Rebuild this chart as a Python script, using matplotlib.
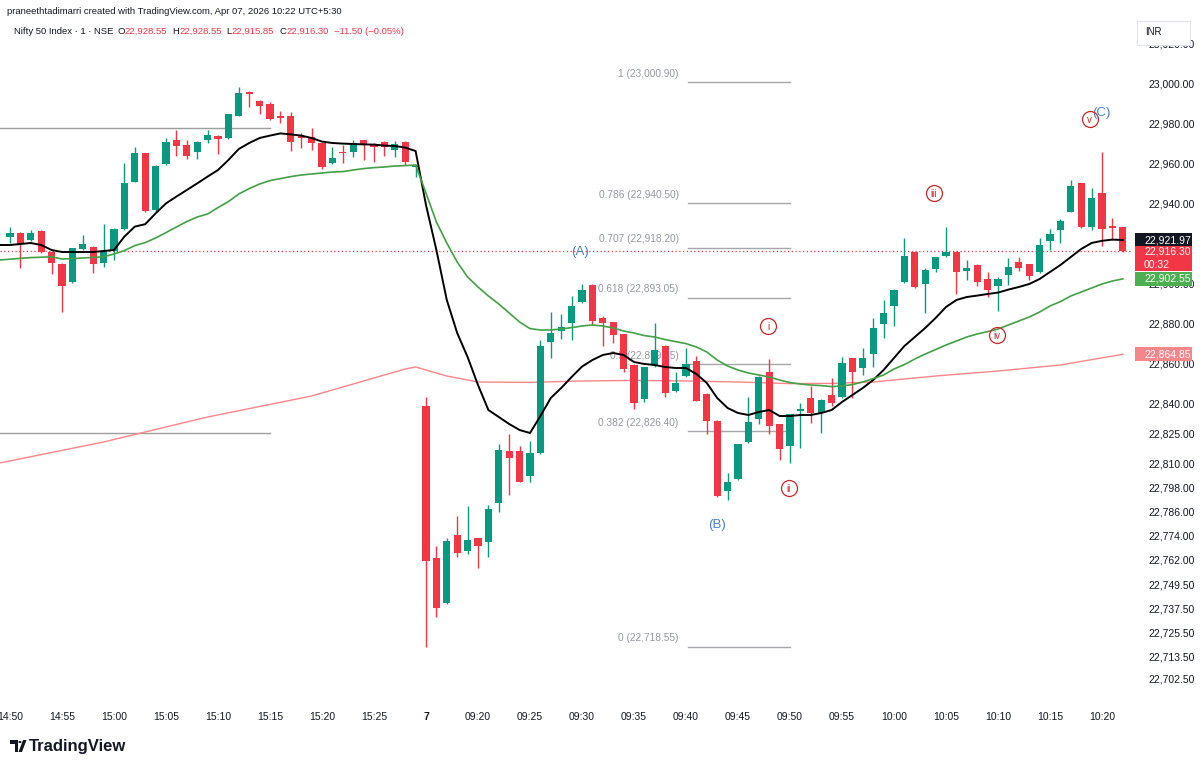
import matplotlib
matplotlib.use("Agg")
import matplotlib.pyplot as plt
from matplotlib import transforms
from matplotlib.patches import Rectangle, Polygon, Circle
import numpy as np

plt.rcParams["font.family"] = ["Liberation Sans", "DejaVu Sans"]

# ---- 1-minute candles, Nifty 50 (14:50 prev day ... 10:22) ----
opens = [
    22923.7, 22925.3, 22922.0, 22926.5, 22916.2, 22910.0, 22900.8, 22917.5, 22918.7, 22910.3,
    22916.7, 22927.3, 22951.2, 22965.3, 22937.0, 22960.0, 22971.8, 22969.3, 22966.2, 22972.0,
    22974.0, 22972.8, 22984.2, 22996.2, 22991.7, 22989.8, 22983.4, 22984.0, 22973.5, 22973.7,
    22970.3, 22960.3, 22965.8, 22966.2, 22971.8, 22969.8, 22971.0, 22967.0, 22971.0, 22958.5,
    22839.0, 22762.8, 22740.3, 22774.5, 22766.5, 22772.8, 22770.8, 22790.7, 22816.7, 22816.7,
    22804.0, 22815.3, 22871.0, 22876.7, 22880.3, 22890.8, 22899.5, 22883.2, 22880.8, 22874.8,
    22859.5, 22842.7, 22859.5, 22869.0, 22846.5, 22854.0, 22861.5, 22845.0, 22831.7, 22796.5,
    22802.3, 22820.8, 22832.5, 22855.8, 22829.8, 22819.2, 22836.5, 22842.8, 22835.7, 22844.5,
    22843.3, 22862.8, 22857.8, 22865.0, 22880.0, 22889.0, 22900.8, 22915.8, 22900.0, 22907.5,
    22914.0, 22916.2, 22906.7, 22909.5, 22902.3, 22899.2, 22904.5, 22910.8, 22909.8, 22905.8,
    22921.5, 22927.0, 22936.2, 22950.3, 22928.3, 22945.3, 22929.0, 22928.55,
]
highs = [
    22928.7, 22925.8, 22927.0, 22926.8, 22916.5, 22910.3, 22918.0, 22924.5, 22919.2, 22930.0,
    22927.8, 22960.7, 22968.7, 22965.6, 22959.5, 22972.8, 22977.0, 22972.0, 22971.3, 22977.0,
    22974.3, 22985.1, 22998.5, 22996.5, 22992.0, 22991.2, 22986.7, 22985.8, 22975.3, 22977.8,
    22970.6, 22968.7, 22969.5, 22972.0, 22972.0, 22970.5, 22971.3, 22971.5, 22971.3, 22960.0,
    22843.3, 22769.2, 22773.2, 22784.0, 22789.2, 22773.0, 22789.5, 22820.0, 22824.8, 22819.2,
    22821.7, 22872.0, 22886.2, 22884.8, 22894.0, 22900.0, 22899.8, 22884.0, 22881.0, 22875.0,
    22859.8, 22858.6, 22880.3, 22869.3, 22856.2, 22867.8, 22864.2, 22845.3, 22832.0, 22805.3,
    22820.1, 22843.7, 22854.0, 22862.3, 22830.1, 22835.1, 22840.3, 22849.2, 22842.3, 22852.8,
    22863.7, 22863.1, 22867.8, 22882.8, 22892.0, 22897.3, 22922.8, 22916.1, 22907.8, 22913.6,
    22928.3, 22916.5, 22912.0, 22909.8, 22906.2, 22903.5, 22912.8, 22913.3, 22910.1, 22922.8,
    22927.3, 22932.5, 22952.0, 22950.6, 22947.8, 22966.2, 22932.8, 22928.55,
]
lows = [
    22920.5, 22907.8, 22921.5, 22915.5, 22905.0, 22886.2, 22900.5, 22917.2, 22905.3, 22908.7,
    22912.0, 22927.0, 22951.0, 22936.2, 22936.7, 22959.7, 22964.0, 22962.5, 22962.5, 22970.7,
    22965.0, 22972.5, 22984.0, 22988.7, 22985.0, 22982.0, 22980.3, 22966.7, 22968.2, 22967.0,
    22957.3, 22960.0, 22960.3, 22963.3, 22962.0, 22961.2, 22964.0, 22963.7, 22959.5, 22953.7,
    22718.55, 22733.7, 22740.0, 22763.3, 22765.0, 22757.8, 22763.3, 22786.2, 22794.5, 22801.0,
    22800.8, 22815.0, 22862.8, 22872.3, 22872.0, 22890.5, 22879.5, 22869.0, 22870.3, 22856.2,
    22837.3, 22841.2, 22858.3, 22843.7, 22846.2, 22853.7, 22841.4, 22825.0, 22793.7, 22792.0,
    22802.0, 22820.5, 22830.0, 22825.0, 22812.0, 22810.7, 22817.8, 22830.3, 22825.3, 22839.0,
    22843.0, 22842.8, 22854.5, 22858.7, 22872.8, 22879.0, 22900.5, 22897.8, 22885.7, 22906.2,
    22913.7, 22895.0, 22902.0, 22899.0, 22893.7, 22886.7, 22899.5, 22906.5, 22902.0, 22905.5,
    22917.0, 22920.3, 22935.9, 22928.0, 22927.0, 22919.0, 22922.0, 22915.85,
]
closes = [
    22925.7, 22920.0, 22925.7, 22915.8, 22910.7, 22899.0, 22917.8, 22919.8, 22910.2, 22916.5,
    22927.5, 22950.7, 22965.3, 22936.5, 22959.2, 22970.8, 22969.2, 22964.0, 22971.0, 22974.5,
    22972.3, 22984.8, 22995.3, 22995.0, 22989.0, 22982.3, 22983.2, 22970.8, 22973.2, 22970.3,
    22958.3, 22962.8, 22965.5, 22970.3, 22969.5, 22968.7, 22968.7, 22969.8, 22961.2, 22959.2,
    22761.7, 22737.8, 22771.7, 22765.7, 22772.0, 22769.2, 22787.5, 22817.0, 22812.8, 22801.2,
    22815.3, 22869.2, 22875.3, 22878.7, 22889.0, 22897.0, 22881.7, 22880.7, 22874.5, 22857.3,
    22840.3, 22858.3, 22867.0, 22845.3, 22850.7, 22860.0, 22841.7, 22831.5, 22794.0, 22800.8,
    22819.8, 22831.2, 22853.7, 22829.2, 22817.3, 22834.8, 22837.5, 22835.3, 22842.0, 22840.7,
    22860.3, 22855.8, 22862.8, 22877.8, 22885.3, 22897.0, 22914.0, 22898.7, 22907.0, 22913.3,
    22915.8, 22905.8, 22908.2, 22901.2, 22897.0, 22902.3, 22908.7, 22908.2, 22904.2, 22919.5,
    22924.8, 22931.5, 22949.0, 22928.3, 22942.8, 22927.3, 22927.8, 22916.30,
]

# x tick labels (every 5 bars)
tick_bars = list(range(0, 108, 5))
tick_text = ["14:50", "14:55", "15:00", "15:05", "15:10", "15:15", "15:20", "15:25", "7",
             "09:20", "09:25", "09:30", "09:35", "09:40", "09:45", "09:50", "09:55",
             "10:00", "10:05", "10:10", "10:15", "10:20"]

# moving averages (bar -1 .. 107)
fast_ma = [
    22919.5, 22919.5, 22920.0, 22920.5, 22919.5, 22917.0, 22916.0, 22916.0, 22916.0, 22916.0,
    22916.5, 22917.0, 22923.7, 22928.7, 22929.9, 22935.3, 22940.3, 22943.7, 22947.0, 22950.3,
    22953.7, 22957.0, 22962.0, 22967.5, 22970.5, 22973.0, 22974.2, 22975.3, 22974.8, 22974.2,
    22973.0, 22971.2, 22970.5, 22970.2, 22970.0, 22969.8, 22969.7, 22969.2, 22969.0, 22968.2,
    22966.5, 22939.5, 22917.0, 22892.0, 22875.5, 22863.5, 22849.5, 22837.0, 22833.5, 22830.0,
    22827.0, 22825.5, 22834.0, 22843.0, 22848.0, 22853.5, 22858.7, 22862.0, 22864.5, 22865.5,
    22864.5, 22861.0, 22860.0, 22859.5, 22858.5, 22858.0, 22858.0, 22855.0, 22850.5, 22843.0,
    22838.0, 22835.5, 22834.5, 22836.0, 22837.0, 22834.0, 22834.0, 22834.5, 22834.5, 22835.5,
    22837.0, 22841.0, 22844.5, 22848.0, 22852.0, 22857.0, 22863.0, 22869.0, 22873.5, 22878.0,
    22883.0, 22888.5, 22892.0, 22893.5, 22894.2, 22895.0, 22895.7, 22897.2, 22898.5, 22900.0,
    22902.5, 22906.0, 22909.5, 22913.5, 22917.5, 22920.5, 22921.6, 22922.2, 22921.97,
]
mid_ma = [
    22912.0, 22912.4, 22912.85, 22913.2, 22913.4, 22913.6, 22912.5, 22912.7, 22913.0, 22913.3,
    22913.6, 22915.0, 22916.7, 22919.2, 22920.7, 22923.0, 22925.7, 22928.5, 22931.2, 22933.5,
    22935.0, 22938.2, 22941.2, 22945.0, 22947.7, 22950.0, 22951.7, 22952.7, 22953.7, 22954.5,
    22955.0, 22955.5, 22956.0, 22956.2, 22957.0, 22957.7, 22958.2, 22958.5, 22959.0, 22959.2,
    22959.5, 22945.5, 22931.0, 22920.5, 22911.0, 22903.5, 22898.5, 22894.0, 22890.0, 22885.5,
    22881.0, 22877.7, 22877.0, 22877.0, 22877.5, 22878.2, 22879.0, 22879.5, 22879.0, 22878.0,
    22876.5, 22875.5, 22874.2, 22873.5, 22872.2, 22871.2, 22870.2, 22868.5, 22866.0, 22862.0,
    22859.0, 22857.0, 22855.5, 22854.5, 22853.5, 22852.0, 22850.7, 22850.0, 22849.5, 22849.2,
    22848.7, 22849.0, 22849.7, 22851.0, 22852.7, 22854.5, 22857.5, 22859.7, 22862.5, 22865.0,
    22867.2, 22869.5, 22871.5, 22873.5, 22875.0, 22876.2, 22877.5, 22879.5, 22881.5, 22883.5,
    22886.0, 22889.0, 22891.2, 22894.0, 22896.0, 22898.0, 22900.0, 22901.5, 22902.55,
]
slow_bars = [-1, 9, 19, 29, 38, 39, 42, 45, 50, 55, 60, 65, 70, 75, 79, 83, 89, 95, 101, 107]
slow_ma = [22810.5, 22821.0, 22833.5, 22844.0, 22857.5, 22858.5, 22854.0, 22851.0, 22850.8,
           22851.5, 22851.8, 22851.5, 22851.0, 22850.2, 22850.3, 22851.0, 22854.0, 22856.5,
           22859.5, 22864.85]

# fib retracement levels
fib_ratio = ["1", "0.786", "0.707", "0.618", "0.5", "0.382", "0"]
fib_price = [23000.90, 22940.50, 22918.20, 22893.05, 22859.75, 22826.40, 22718.55]

# horizontal levels drawn on the previous session
levels = [22977.8, 22825.5]

# wave labels: (text, bar, price)
waves_abc = [("(A)", 54.8, 22916.0), ("(B)", 68.0, 22779.5), ("(C)", 104.9, 22985.5)]
waves_num = [("i", 72.9, 22879.0), ("ii", 74.9, 22798.0), ("iii", 88.8, 22945.5),
             ("iv", 94.9, 22874.5), ("v", 103.8, 22982.5)]

# scale labels (22,920 sits fully under the price tags, so it is left out)
y_ticks = [23020, 23000, 22980, 22960, 22940, 22900, 22880, 22860, 22840, 22825,
           22810, 22798, 22786, 22774, 22762, 22749.5, 22737.5, 22725.5, 22713.5, 22702.5]

UP = "#089981"
DOWN = "#F23645"
TXT = "#131722"

fig = plt.figure(figsize=(12, 7.69), dpi=100)
fig.patch.set_facecolor("white")


def fx(px):
    return px / 1200.0


def fy(py):
    return 1.0 - py / 769.0


ax = fig.add_axes([0, fy(700), fx(1133), fy(20) - fy(700)])
ax.set_xlim(-0.96, 107.98)
ax.set_ylim(22692, 23032)
for s in ax.spines.values():
    s.set_visible(False)

# candles
for i in range(len(opens)):
    o, h, l, c = opens[i], highs[i], lows[i], closes[i]
    col = UP if c >= o else DOWN
    ax.vlines(i, l, h, color=col, linewidth=1.0, zorder=4)
    ax.bar(i, max(abs(c - o), 0.6), bottom=min(o, c), width=0.68, color=col,
           linewidth=0, zorder=5)

bars = np.arange(-1, 108)
ax.plot(bars, fast_ma, color="#000000", linewidth=1.4, zorder=6)
ax.plot(bars, mid_ma, color="#43A047", linewidth=1.2, zorder=6)
ax.plot(slow_bars, slow_ma, color="#F7868B", linewidth=1.0, zorder=3)

# last price line
ax.axhline(closes[-1], color=DOWN, linestyle=(0, (1, 2)), linewidth=0.9, zorder=2)

# previous session levels
for lv in levels:
    ax.plot([-1, 25], [lv, lv], color="#9e9e9e", linewidth=1.0, zorder=2)

# fib retracement
for r, p in zip(fib_ratio, fib_price):
    ax.plot([65.2, 75.0], [p, p], color="#a5a7ad", linewidth=1.0, zorder=2)
    ax.text(64.3, p + 4.2, "{} ({:,.2f})".format(r, p), ha="right", va="center",
            fontsize=7.3, color="#9598a1", zorder=2)

for t, b, p in waves_abc:
    ax.text(b, p, t, ha="center", va="center", fontsize=9.5, color="#4a80c4", zorder=7)
for t, b, p in waves_num:
    ax.plot(b, p, "o", markersize=11.5, markerfacecolor="none",
            markeredgecolor="#c62828", markeredgewidth=0.9, zorder=7)
    ax.text(b, p - 0.3, t, ha="center", va="center", fontsize=7, color="#c62828", zorder=7)

# axes ticks
ax.set_xticks(tick_bars)
ax.set_xticklabels(tick_text)
ax.tick_params(axis="x", length=0, pad=9, labelsize=7.5, labelcolor=TXT)
for lab in ax.get_xticklabels():
    if lab.get_text() == "7":
        lab.set_fontweight("bold")
ax.yaxis.tick_right()
ax.set_yticks(y_ticks)
ax.set_yticklabels(["{:,.2f}".format(v) for v in y_ticks])
ax.tick_params(axis="y", length=0, pad=11, labelsize=7.5, labelcolor=TXT)

# price tags on the scale
tag = transforms.blended_transform_factory(fig.transFigure, ax.transData)


def price_tag(top, bottom, fc, texts):
    fig.add_artist(Rectangle((fx(1135), bottom), fx(1192) - fx(1135), top - bottom,
                             transform=tag, facecolor=fc, edgecolor="none", zorder=10))
    for txt, p in texts:
        fig.text(fx(1144), p, txt, transform=tag, fontsize=7.5, color="white",
                 ha="left", va="center", zorder=11)


last = closes[-1]
price_tag(22864.85 + 3.5, 22864.85 - 3.5, "#F7868B", [("{:,.2f}".format(slow_ma[-1]), 22864.85)])
price_tag(mid_ma[-1] + 3.5, mid_ma[-1] - 3.5, "#4CAF50", [("{:,.2f}".format(mid_ma[-1]), mid_ma[-1])])
price_tag(last + 3.5, last - 10.0, DOWN, [("{:,.2f}".format(last), last), ("00:32", last - 6.6)])
price_tag(fast_ma[-1] + 3.5, fast_ma[-1] - 3.0, "#131722", [("{:,.2f}".format(fast_ma[-1]), fast_ma[-1])])

# currency box
fig.add_artist(Rectangle((fx(1137), fy(45)), fx(1190) - fx(1137), fy(21) - fy(45),
                         transform=fig.transFigure, facecolor="white", edgecolor="#e0e3eb",
                         linewidth=0.8, zorder=10))
fig.text(fx(1145), fy(32), "INR", fontsize=7, color=TXT, ha="left", va="center", zorder=11)

# header
fig.text(fx(7), fy(12), "praneethtadimarri created with TradingView.com, Apr 07, 2026 10:22 UTC+5:30",
         fontsize=6.8, color=TXT, ha="left", va="center")

renderer = fig.canvas.get_renderer()
chg = closes[-1] - closes[-2]
pct = chg / closes[-2] * 100
pieces = [("Nifty 50 Index \u00b7 1 \u00b7 NSE", TXT, 4),
          ("O", TXT, 0), ("{:,.2f}".format(opens[-1]), DOWN, 5),
          ("H", TXT, 0), ("{:,.2f}".format(highs[-1]), DOWN, 5),
          ("L", TXT, 0), ("{:,.2f}".format(lows[-1]), DOWN, 5),
          ("C", TXT, 0), ("{:,.2f}".format(closes[-1]), DOWN, 5),
          ("{:.2f} ({:.2f}%)".format(chg, pct).replace("-", "\u2212"), DOWN, 0)]
xpos = 14.0
for txt, col, gap in pieces:
    t = fig.text(fx(xpos), fy(31), txt, fontsize=6.8, color=col, ha="left", va="center")
    bb = t.get_window_extent(renderer)
    xpos += bb.width + gap

# TradingView logo
fig.add_artist(Polygon([[fx(10), fy(740)], [fx(17.5), fy(740)], [fx(17.5), fy(752)],
                        [fx(14.5), fy(752)], [fx(14.5), fy(743.5)], [fx(10), fy(743.5)]],
                       closed=True, transform=fig.transFigure, facecolor=TXT, edgecolor="none"))
fig.add_artist(Circle((fx(20), fy(742)), 1.6 / 1200, transform=fig.transFigure,
                      facecolor=TXT, edgecolor="none"))
fig.add_artist(Polygon([[fx(23), fy(740)], [fx(26.5), fy(740)], [fx(22), fy(752)],
                        [fx(18.5), fy(752)]], closed=True, transform=fig.transFigure,
                       facecolor=TXT, edgecolor="none"))
fig.text(fx(29), fy(746.5), "TradingView", fontsize=12, fontweight="bold", color=TXT,
         ha="left", va="center")

fig.savefig("out.png", dpi=100, facecolor="white")
